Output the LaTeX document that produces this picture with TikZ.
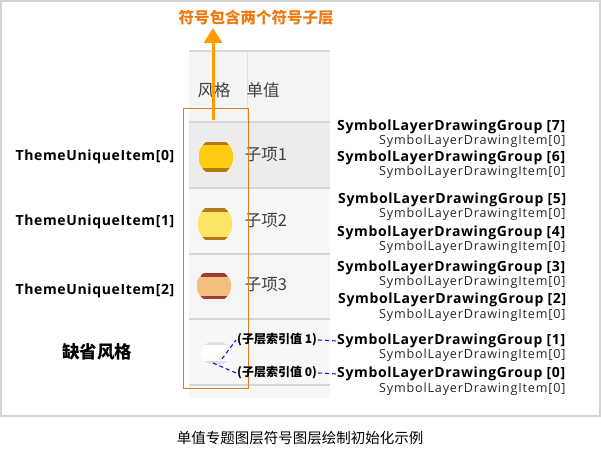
\documentclass[tikz,border=0pt]{standalone}
\usepackage{fontspec}
\setmainfont{Open Sans}
\newfontfamily\itmfont{Open Sans}[LetterSpace=6.5]
\newfontfamily\bfont{Open Sans}[LetterSpace=4.5]
\newfontfamily\cjk{Noto Sans CJK SC}
\usetikzlibrary{arrows.meta}
\definecolor{frameg}{HTML}{D4D4D4}
\definecolor{rowline}{HTML}{D6D6D6}
\definecolor{orbox}{HTML}{E07B1E}
\definecolor{orarrow}{HTML}{FF9A00}
\definecolor{ortext}{HTML}{EE7A12}
\definecolor{dblue}{HTML}{1010E0}
\definecolor{goldA}{HTML}{FFCB10}
\definecolor{goldS}{HTML}{B37A12}
\definecolor{yelA}{HTML}{FBE566}
\definecolor{yelS}{HTML}{B37A1A}
\definecolor{orgA}{HTML}{F2C07C}
\definecolor{orgS}{HTML}{A03C36}
\tikzset{
  grp/.style={anchor=west, inner sep=0pt, font=\bfont\bfseries\fontsize{14}{14}\selectfont},
  itm/.style={anchor=west, inner sep=0pt, font=\itmfont\fontsize{12.6}{12.6}\selectfont, text=black!85},
  theme/.style={inner sep=0pt, font=\bfont\bfseries\fontsize{14}{14}\selectfont},
  tcell/.style={inner sep=0pt, font=\cjk\fontsize{16.5}{16.5}\selectfont, text=black!75},
  idx/.style={inner sep=1pt, font=\cjk\bfseries\fontsize{12}{12}\selectfont},
  bluedash/.style={dblue, dashed, dash pattern=on 4pt off 3pt, line width=1.1pt},
  rline/.style={rowline, line width=2pt}
}
\newcommand{\symb}[5]{% x y fill stripe halfheight
  \begin{scope}
    \clip (#1,#2) ellipse (17.5 and #5+3);
    \fill[#3] (#1-17,#2-#5) rectangle (#1+17,#2+#5);
    \fill[#4] (#1-13,#2-#5) rectangle (#1+13,#2-#5+3.5);
    \fill[#4] (#1-13,#2+#5-3.5) rectangle (#1+13,#2+#5);
  \end{scope}
}
\begin{document}
\begin{tikzpicture}[x=1pt,y=-1pt]
\useasboundingbox (0,0) rectangle (601,462);
\draw[frameg, line width=1.5pt] (1,1) rectangle (600,416);

% table background
\fill[gray!9] (189,50) rectangle (330,122);
\fill[gray!15] (189,122) rectangle (330,188);
\fill[gray!6] (189,188) rectangle (330,254);
\fill[gray!8] (189,254) rectangle (330,319);
\fill[gray!6] (189,319) rectangle (330,398);
\draw[rline] (189,51) -- (330,51);
\draw[gray!25] (247,53) -- (247,121);
\draw[rline] (189,122) -- (330,122);
\draw[rline] (189,188) -- (330,188);
\draw[rline] (189,254) -- (330,254);
\draw[rline] (189,319) -- (330,319);
\draw[rline] (189,385) -- (330,385);

\node[tcell] (h1) at (214,90) {风格};
\node[tcell] (h2) at (263,90) {单值};
\node[tcell] (c1) at (266,155) {子项1};
\node[tcell] (c2) at (266,221) {子项2};
\node[tcell] (c3) at (266,285) {子项3};

% symbols
\symb{216}{157}{goldA}{goldS}{15}
\symb{215}{224}{yelA}{yelS}{16}
\symb{214}{286}{orgA}{orgS}{13}
\begin{scope}
  \clip (216,353) ellipse (15 and 12);
  \fill[white] (201,343) rectangle (231,363);
  \fill[gray!25] (203,342) rectangle (229,345);
  \fill[gray!25] (203,361) rectangle (229,364);
\end{scope}
\coordinate (d1) at (222,359);
\coordinate (d0) at (213,363);

% orange box and arrow
\draw[orbox, line width=1pt] (183,109) rectangle (248,388);
\node[inner sep=0pt, font=\cjk\bfseries\fontsize{15.5}{15.5}\selectfont, text=ortext] (title) at (256,18) {符号包含两个符号子层};
\coordinate (arrS) at (213,120);
\draw[orarrow, line width=3pt, -{Triangle[width=18pt,length=15pt]}] (arrS) -- (213,28);

% left labels
\node[theme] (t0) at (95,157) {ThemeUniqueItem[0]};
\node[theme] (t1) at (95,222) {ThemeUniqueItem[1]};
\node[theme] (t2) at (95,291) {ThemeUniqueItem[2]};
\node[inner sep=0pt, font=\cjk\bfseries\fontsize{17.5}{17.5}\selectfont] (def) at (97,352) {缺省风格};

% right labels
\node[grp] (g7) at (337,127) {SymbolLayerDrawingGroup [7]};
\node[itm] (i7) at (379,141) {SymbolLayerDrawingItem[0]};
\node[grp] (g6) at (337,158) {SymbolLayerDrawingGroup [6]};
\node[itm] (i6) at (379,172) {SymbolLayerDrawingItem[0]};
\node[grp] (g5) at (338,200) {SymbolLayerDrawingGroup [5]};
\node[itm] (i5) at (379,214) {SymbolLayerDrawingItem[0]};
\node[grp] (g4) at (337,233) {SymbolLayerDrawingGroup [4]};
\node[itm] (i4) at (379,247) {SymbolLayerDrawingItem[0]};
\node[grp] (g3) at (337,268) {SymbolLayerDrawingGroup [3]};
\node[itm] (i3) at (379,282) {SymbolLayerDrawingItem[0]};
\node[grp] (g2) at (338,300) {SymbolLayerDrawingGroup [2]};
\node[itm] (i2) at (379,315) {SymbolLayerDrawingItem[0]};
\node[grp] (g1) at (337,341) {SymbolLayerDrawingGroup [1]};
\node[itm] (i1) at (379,355) {SymbolLayerDrawingItem[0]};
\node[grp] (g0) at (337,374) {SymbolLayerDrawingGroup [0]};
\node[itm] (i0) at (379,389) {SymbolLayerDrawingItem[0]};

% index labels and connectors
\node[idx, anchor=west] (x1) at (236,340) {(子层索引值 1)};
\node[idx, anchor=west] (x0) at (236,373) {(子层索引值 0)};
\draw[bluedash] (d1) -- (x1.west);
\draw[bluedash] (d0) -- (x0.west);
\draw[bluedash] (x1.east) -- (g1.west);
\draw[bluedash] (x0.east) -- (g0.west);

% caption
\node[inner sep=0pt, font=\cjk\fontsize{14.5}{14.5}\selectfont] (cap) at (300,438) {单值专题图层符号图层绘制初始化示例};
\end{tikzpicture}
\end{document}
